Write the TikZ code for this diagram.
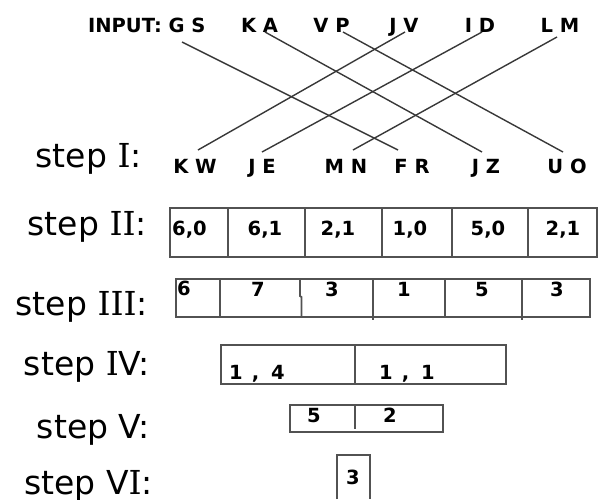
\documentclass[tikz,border=0pt]{standalone}
\usepackage{fontspec}
\setmainfont{DejaVu Sans}
\newfontfamily\serifI{DejaVu Serif}
\newcommand\romI{{\serifI I}}
\begin{document}
\begin{tikzpicture}[x=1pt,y=-1pt,
  lab/.style={inner sep=0pt, anchor=base east, font=\fontsize{33}{33}\selectfont},
  code/.style={inner sep=0pt, anchor=base, font=\fontsize{19.5}{19.5}\selectfont\bfseries},
  conn/.style={draw=black!78, line width=1.4pt},
  boxline/.style={draw=black!68, line width=1.8pt}]
\useasboundingbox (0,0) rectangle (598,499);
% ---------- input row ----------
\node[code, anchor=base east] (inp) at (162,32) {INPUT:};
\node[code] (gs) at (187,32) {G S};
\node[code] (ka) at (259.5,32) {K A};
\node[code] (vp) at (331.5,32) {V P};
\node[code] (jv) at (404,32) {J V};
\node[code] (id) at (480,32) {I D};
\node[code] (lm) at (560,32) {L M};
% ---------- step I row ----------
\node[lab] (s1) at (142,167) {step \romI:};
\node[code] (kw) at (195,173) {K W};
\node[code] (je) at (262,173) {J E};
\node[code] (mn) at (346,173) {M N};
\node[code] (fr) at (412,173) {F R};
\node[code] (jz) at (486,173) {J Z};
\node[code] (uo) at (567,173) {U O};
% connector end points
\coordinate (gsT) at (182,42);  \coordinate (frB) at (398,150);
\coordinate (kaT) at (265,32);  \coordinate (jzB) at (482,152);
\coordinate (vpT) at (343,32);  \coordinate (uoB) at (563,152);
\coordinate (jvT) at (405,32);  \coordinate (kwB) at (198,150);
\coordinate (idT) at (482,32);  \coordinate (jeB) at (262,152);
\coordinate (lmT) at (557,37);  \coordinate (mnB) at (353,150);
\draw[conn] (gsT) -- (frB);
\draw[conn] (kaT) -- (jzB);
\draw[conn] (vpT) -- (uoB);
\draw[conn] (jvT) -- (kwB);
\draw[conn] (idT) -- (jeB);
\draw[conn] (lmT) -- (mnB);
% ---------- step II ----------
\node[lab] (s2) at (147,235) {step \romI\romI:};
\draw[boxline] (170,208) rectangle (597,257);
\foreach \x in {228,305,382,452,528} \draw[boxline] (\x,208) -- (\x,257);
\node[code, anchor=base west] (c21) at (172,235) {6,0};
\node[code] (c22) at (265,235) {6,1};
\node[code] (c23) at (338,235) {2,1};
\node[code] (c24) at (410,235) {1,0};
\node[code] (c25) at (488,235) {5,0};
\node[code] (c26) at (563,235) {2,1};
% ---------- step III ----------
\node[lab] (s3) at (148,315) {step \romI\romI\romI:};
\draw[boxline] (176,279) rectangle (590,317);
\draw[boxline] (220,279) -- (220,317);
\draw[boxline] (300,279) -- (300,296) -- (301.5,297) -- (301.5,317);
\draw[boxline] (373,279) -- (373,320);
\draw[boxline] (445,279) -- (445,317);
\draw[boxline] (522,279) -- (522,320);
\node[code, anchor=base west] (c31) at (177,295) {6};
\node[code] (c32) at (258,296) {7};
\node[code] (c33) at (332,296) {3};
\node[code] (c34) at (404,296) {1};
\node[code] (c35) at (482,296) {5};
\node[code] (c36) at (557,296) {3};
% ---------- step IV ----------
\node[lab] (s4) at (150,375) {step \romI V:};
\draw[boxline] (221,345) rectangle (506,384);
\draw[boxline] (355,345) -- (355,385);
\node[code, anchor=base west] (c41) at (229,379) {1\hspace{9pt},\hspace{12pt}4};
\node[code, anchor=base west] (c42) at (379,379) {1\hspace{9pt},\hspace{12pt}1};
% ---------- step V ----------
\node[lab] (s5) at (150,438) {step V:};
\draw[boxline] (290,405) rectangle (443,432);
\draw[boxline] (355,405) -- (355,429);
\node[code] (c51) at (314,422) {5};
\node[code] (c52) at (390,422) {2};
% ---------- step VI ----------
\node[lab] (s6) at (153,494) {step V\romI:};
\draw[boxline] (337,499) -- (337,455) -- (370,455) -- (370,499);
\node[code] (c61) at (353,484) {3};
\end{tikzpicture}
\end{document}
